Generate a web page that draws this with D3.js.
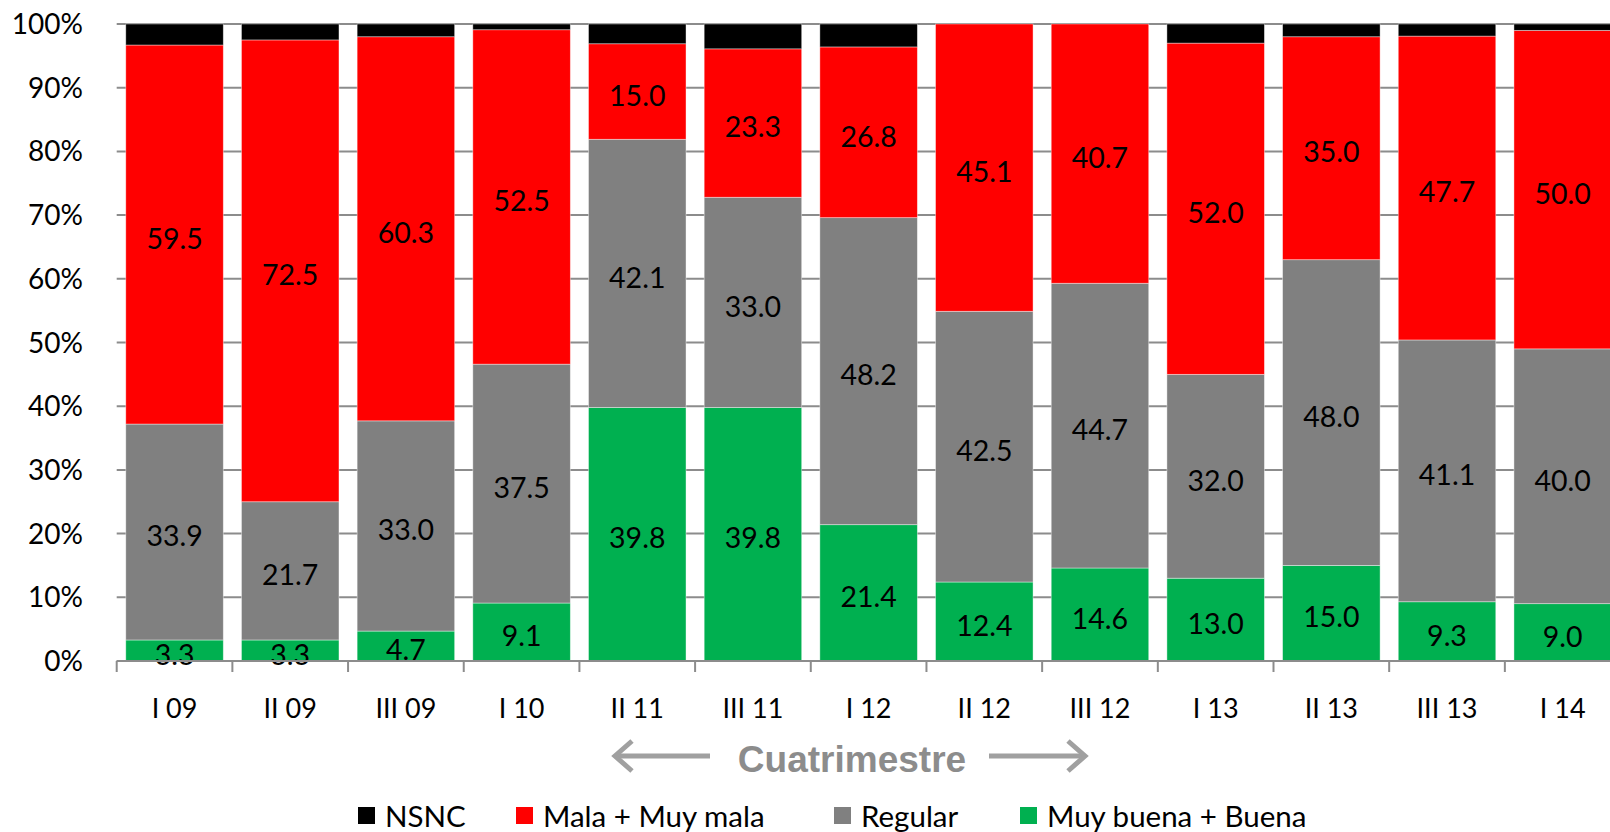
<!DOCTYPE html>
<html>
<head>
<meta charset="utf-8">
<script src="https://cdn.jsdelivr.net/npm/d3@7"></script>
<style>
  body { margin: 0; background: #fff; }
  svg { display: block; }
  text { font-family: Lato, "Open Sans", sans-serif; fill: #000; }
</style>
</head>
<body>
<svg id="chart" width="1610" height="832"></svg>
<script>
// categories and values (percent), stacked bottom -> top
var categories = ["I 09", "II 09", "III 09", "I 10", "II 11", "III 11", "I 12", "II 12", "III 12", "I 13", "II 13", "III 13", "I 14"];
var buena   = [3.3, 3.3, 4.7, 9.1, 39.8, 39.8, 21.4, 12.4, 14.6, 13.0, 15.0, 9.3, 9.0];
var regular = [33.9, 21.7, 33.0, 37.5, 42.1, 33.0, 48.2, 42.5, 44.7, 32.0, 48.0, 41.1, 40.0];
var mala    = [59.5, 72.5, 60.3, 52.5, 15.0, 23.3, 26.8, 45.1, 40.7, 52.0, 35.0, 47.7, 50.0];
var nsnc    = [3.3, 2.5, 2.0, 0.9, 3.1, 3.9, 3.6, 0.0, 0.0, 3.0, 2.0, 1.9, 1.0];
var yTicks = [0, 10, 20, 30, 40, 50, 60, 70, 80, 90, 100];

var keys = ["buena", "regular", "mala", "nsnc"];
var colors = { buena: "#00b050", regular: "#808080", mala: "#ff0000", nsnc: "#000000" };
var legendItems = [
  { key: "nsnc", label: "NSNC", x: 358 },
  { key: "mala", label: "Mala + Muy mala", x: 516 },
  { key: "regular", label: "Regular", x: 834 },
  { key: "buena", label: "Muy buena + Buena", x: 1020 }
];

var rows = categories.map(function (c, i) {
  return { cat: c, buena: buena[i], regular: regular[i], mala: mala[i], nsnc: nsnc[i] };
});

var svg = d3.select("#chart"),
  plotLeft = 116.7,
  step = 115.68,
  plotTop = 24,
  plotBottom = 661;

var x = d3.scaleBand()
  .domain(categories)
  .range([plotLeft, plotLeft + step * categories.length])
  .paddingInner(0.157)
  .paddingOuter(0.0785);

var y = d3.scaleLinear()
  .domain([0, 100])
  .range([plotBottom, plotTop]);

// gridlines
svg.append("g")
  .selectAll("line").data(yTicks)
  .enter().append("line")
  .attr("x1", plotLeft).attr("x2", 1610)
  .attr("y1", function (d) { return y(d); })
  .attr("y2", function (d) { return y(d); })
  .attr("stroke", "#8c8c8c")
  .attr("stroke-width", 2);

// y labels
svg.append("g")
  .selectAll("text").data(yTicks)
  .enter().append("text")
  .attr("x", 83)
  .attr("y", function (d) { return y(d); })
  .attr("dy", "0.36em")
  .attr("text-anchor", "end")
  .style("font-size", "28px")
  .text(function (d) { return d + "%"; });

var series = d3.stack().keys(keys)(rows);

var layers = svg.append("g")
  .selectAll("g").data(series)
  .enter().append("g")
  .attr("fill", function (d) { return colors[d.key]; });

layers.selectAll("rect")
  .data(function (d) { return d; })
  .enter().append("rect")
  .attr("x", function (d) { return x(d.data.cat); })
  .attr("width", x.bandwidth())
  .attr("y", function (d) { return y(d[1]); })
  .attr("height", function (d) { return y(d[0]) - y(d[1]); })
  .attr("stroke", "#ffffff")
  .attr("stroke-opacity", 0.5)
  .attr("stroke-width", 0.8);

// data labels (not for NSNC)
series.forEach(function (s) {
  if (s.key === "nsnc") return;
  svg.append("g")
    .selectAll("text").data(s)
    .enter().append("text")
    .attr("x", function (d) { return x(d.data.cat) + x.bandwidth() / 2; })
    .attr("y", function (d) { return (y(d[0]) + y(d[1])) / 2; })
    .attr("dy", "0.5em")
    .attr("text-anchor", "middle")
    .style("font-size", "28.5px")
    .text(function (d) { return d.data[s.key].toFixed(1); });
});

// x axis line + ticks
svg.append("line")
  .attr("x1", plotLeft).attr("x2", 1610)
  .attr("y1", plotBottom).attr("y2", plotBottom)
  .attr("stroke", "#8c8c8c").attr("stroke-width", 2);

svg.append("g")
  .selectAll("line").data(d3.range(categories.length + 1))
  .enter().append("line")
  .attr("x1", function (i) { return plotLeft + i * step; })
  .attr("x2", function (i) { return plotLeft + i * step; })
  .attr("y1", plotBottom).attr("y2", plotBottom + 11)
  .attr("stroke", "#8c8c8c").attr("stroke-width", 2);

svg.append("g")
  .selectAll("text").data(categories)
  .enter().append("text")
  .attr("x", function (d) { return x(d) + x.bandwidth() / 2; })
  .attr("y", 718)
  .attr("text-anchor", "middle")
  .style("font-size", "27px")
  .text(function (d) { return d; });

// axis title with arrows
var titleG = svg.append("g").attr("fill", "none").attr("stroke", "#a0a0a0")
  .attr("stroke-width", 5).attr("stroke-linecap", "butt");
titleG.append("line").attr("x1", 616).attr("x2", 710).attr("y1", 756).attr("y2", 756);
titleG.append("polyline").attr("points", "632,741 615,756 632,771").attr("stroke-linejoin", "miter");
titleG.append("line").attr("x1", 989).attr("x2", 1084).attr("y1", 756).attr("y2", 756);
titleG.append("polyline").attr("points", "1068,741 1085,756 1068,771").attr("stroke-linejoin", "miter");

svg.append("text")
  .attr("x", 852)
  .attr("y", 759)
  .attr("dy", "0.35em")
  .attr("text-anchor", "middle")
  .style("font-family", "'Liberation Sans', Arial, sans-serif")
  .style("font-weight", "bold")
  .style("font-size", "37px")
  .style("fill", "#8c8c8c")
  .text("Cuatrimestre");

// legend
var lg = svg.append("g")
  .selectAll("g").data(legendItems)
  .enter().append("g")
  .attr("transform", function (d) { return "translate(" + d.x + ",807)"; });

lg.append("rect")
  .attr("width", 17).attr("height", 17)
  .attr("fill", function (d) { return colors[d.key]; });

lg.append("text")
  .attr("x", 27)
  .attr("y", 9)
  .attr("dy", "0.36em")
  .style("font-size", "29.5px")
  .text(function (d) { return d.label; });
</script>
</body>
</html>
